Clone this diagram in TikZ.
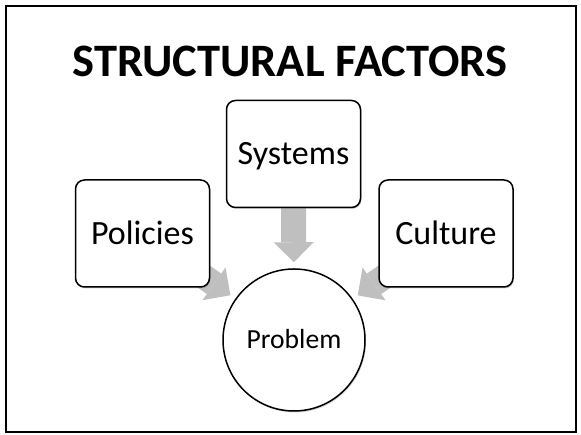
\documentclass[tikz,border=0pt]{standalone}
\usepackage{fontspec}
\setmainfont{Carlito}
\usetikzlibrary{arrows.meta,backgrounds,shadows}

\begin{document}
\begin{tikzpicture}
        [x=1pt,y=1pt,
        factor/.style={draw,line width=1.5pt,rounded corners=9pt,fill=white,
          minimum width=134pt,minimum height=107pt,inner sep=0pt,
          text height=22pt,text depth=0pt,font=\fontsize{34}{38}\selectfont,
          drop shadow={shadow xshift=1pt,shadow yshift=-1.5pt,opacity=.35}},
        problem/.style={draw,circle,line width=1.5pt,fill=white,
          minimum size=142pt,inner sep=0pt,
          text height=18pt,text depth=0pt,font=\fontsize{27.6}{30}\selectfont,
          drop shadow={shadow xshift=1pt,shadow yshift=-1.5pt,opacity=.35}},
        flow/.style={draw=gray!50,line width=25pt,shorten >=6pt,
          -{Triangle[length=20pt,width=40pt,line width=0pt]}}]
        \useasboundingbox (0,0) rectangle (581,435);
        \draw[line width=2pt] (6,3) rectangle (576,429);
        \node (title) at (290,358) [anchor=base,font=\fontsize{46.5}{50}\selectfont\bfseries] {STRUCTURAL FACTORS};

        \node[factor] (sys) at (293.5,281) {Systems};
        \node[factor] (pol) at (142.5,201.5) {Policies};
        \node[factor] (cul) at (446,201.5) {Culture};
        \node[problem] (prob) at (294,95) {Problem};

        \begin{scope}[on background layer]
        \foreach \from in {sys,pol,cul}
        \draw[flow] (\from.center) -- (prob);
        \end{scope}
      \end{tikzpicture}
\end{document}
